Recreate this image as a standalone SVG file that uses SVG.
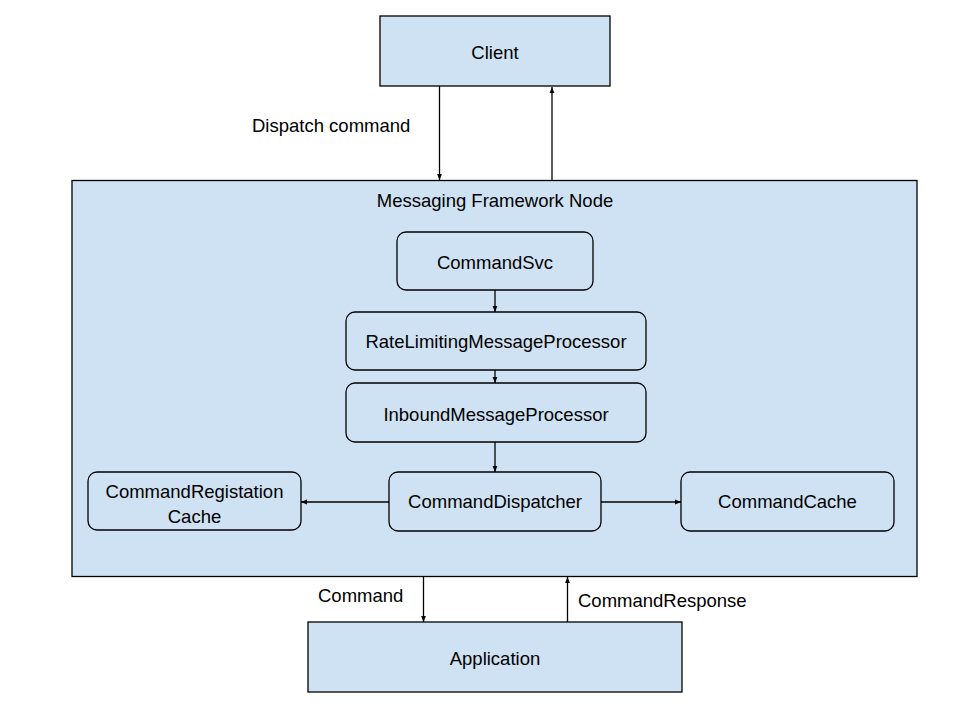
<svg xmlns="http://www.w3.org/2000/svg" width="960" height="720" viewBox="0 0 960 720">
<defs>
<style>
.box{fill:#cfe2f3;stroke:#000;stroke-width:1.3}
.t{font-family:"Liberation Sans",Arial,sans-serif;font-size:18.5px;fill:#000;text-anchor:middle}
.tl{font-family:"Liberation Sans",Arial,sans-serif;font-size:18.5px;fill:#000}
.c{stroke:#000;stroke-width:1.3;fill:none;marker-end:url(#ah)}
</style>
<marker id="ah" viewBox="0 0 10 10" refX="10" refY="5" markerWidth="6" markerHeight="6" markerUnits="userSpaceOnUse" orient="auto">
<path d="M0,1 L10,5 L0,9 z" fill="#000"/>
</marker>
</defs>
<rect width="960" height="720" fill="#fff"/>
<g id="node-framework">
<rect class="box" x="72" y="180.5" width="845" height="396"/>
<text class="t" x="495" y="206.5">Messaging Framework Node</text>
</g>
<g id="node-client">
<rect class="box" x="380" y="16" width="230" height="70"/>
<text class="t" x="495" y="58.5">Client</text>
</g>
<g id="node-application">
<rect class="box" x="308" y="622" width="374" height="70"/>
<text class="t" x="495" y="664.5">Application</text>
</g>
<g id="node-commandsvc">
<rect class="box" x="397" y="232" width="196" height="58" rx="9"/>
<text class="t" x="495" y="268.5">CommandSvc</text>
</g>
<g id="node-ratelimiting">
<rect class="box" x="346" y="312" width="300" height="58" rx="9"/>
<text class="t" x="496" y="348">RateLimitingMessageProcessor</text>
</g>
<g id="node-inbound">
<rect class="box" x="346" y="383" width="300" height="59" rx="9"/>
<text class="t" x="496" y="420.5">InboundMessageProcessor</text>
</g>
<g id="node-dispatcher">
<rect class="box" x="389" y="472" width="212" height="59" rx="9"/>
<text class="t" x="495" y="508">CommandDispatcher</text>
</g>
<g id="node-registration">
<rect class="box" x="88" y="472" width="213" height="58" rx="9"/>
<text class="t" x="194.5" y="498">CommandRegistation</text>
<text class="t" x="194.5" y="523">Cache</text>
</g>
<g id="node-cache">
<rect class="box" x="681" y="472" width="213" height="59" rx="9"/>
<text class="t" x="787.5" y="508">CommandCache</text>
</g>
<g id="connectors">
<line class="c" x1="439.5" y1="86" x2="439.5" y2="180"/>
<line class="c" x1="552" y1="180.5" x2="552" y2="87"/>
<line class="c" x1="495" y1="290" x2="495" y2="312"/>
<line class="c" x1="495" y1="370" x2="495" y2="383"/>
<line class="c" x1="495" y1="442" x2="495" y2="472"/>
<line class="c" x1="389" y1="502" x2="301" y2="502"/>
<line class="c" x1="601" y1="502" x2="681" y2="502"/>
<line class="c" x1="423.5" y1="576.5" x2="423.5" y2="622"/>
<line class="c" x1="567.5" y1="622" x2="567.5" y2="577"/>
</g>
<g id="labels">
<text class="tl" x="252" y="131.5">Dispatch command</text>
<text class="tl" x="318" y="601.5">Command</text>
<text class="tl" x="578" y="606.5">CommandResponse</text>
</g>
</svg>
